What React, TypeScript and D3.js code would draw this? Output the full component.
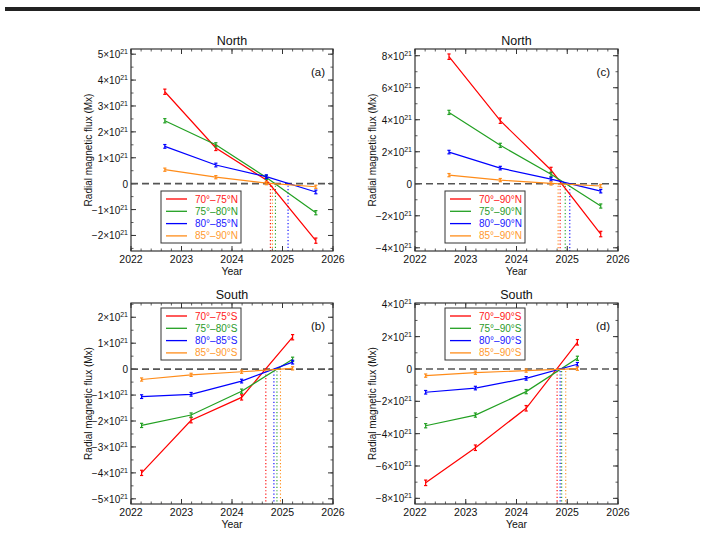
import React from 'react';
import * as d3 from 'd3';

const W = 705;
const H = 533;
const FONT = '"Liberation Sans", Arial, Helvetica, sans-serif';

const colors = ['#ff0000', '#22a022', '#0000ff', '#ff8c1a'];
const textColors = ['#ff2020', '#2a9a2a', '#2020ff', '#ff9a30'];

// observation epochs
const northYears = [2022.67, 2023.68, 2024.68, 2025.66];
const southYears = [2022.21, 2023.19, 2024.19, 2025.2];

// flux in units of 1e21 Mx, order: red, green, blue, orange
const aRed = [3.55, 1.38, 0.14, -2.2];
const aGreen = [2.43, 1.5, 0.24, -1.12];
const aBlue = [1.44, 0.72, 0.27, -0.32];
const aOrange = [0.54, 0.25, 0.02, -0.12];

const cRed = [7.94, 3.94, 0.86, -3.14];
const cGreen = [4.46, 2.4, 0.59, -1.39];
const cBlue = [1.98, 0.98, 0.29, -0.46];
const cOrange = [0.54, 0.23, 0.02, -0.14];

const bRed = [-4.0, -1.97, -1.09, 1.23];
const bGreen = [-2.17, -1.77, -0.85, 0.38];
const bBlue = [-1.06, -0.97, -0.46, 0.27];
const bOrange = [-0.4, -0.22, -0.1, 0.03];

const dRed = [-7.04, -4.87, -2.43, 1.65];
const dGreen = [-3.51, -2.85, -1.4, 0.66];
const dBlue = [-1.44, -1.18, -0.58, 0.29];
const dOrange = [-0.41, -0.23, -0.1, 0.02];

// error bar half sizes per series
const aErr = [0.07, 0.05, 0.04, 0.03];
const cErr = [0.12, 0.08, 0.06, 0.05];
const bErr = [0.07, 0.05, 0.04, 0.03];
const dErr = [0.12, 0.08, 0.06, 0.05];

// zero crossing epochs (dotted lines)
const aCross = [2024.76, 2024.86, 2025.11, 2024.8];
const cCross = [2024.86, 2024.96, 2025.05, 2024.82];
const bCross = [2024.67, 2024.89, 2024.83, 2024.96];
const dCross = [2024.8, 2024.89, 2024.86, 2024.97];

const northBand = ['70°–75°N', '75°–80°N', '80°–85°N', '85°–90°N'];
const northCap = ['70°–90°N', '75°–90°N', '80°–90°N', '85°–90°N'];
const southBand = ['70°–75°S', '75°–80°S', '80°–85°S', '85°–90°S'];
const southCap = ['70°–90°S', '75°–90°S', '80°–90°S', '85°–90°S'];

const yearTicks = [2022, 2023, 2024, 2025, 2026];
const aTicks = [-2, -1, 0, 1, 2, 3, 4, 5];
const cTicks = [-4, -2, 0, 2, 4, 6, 8];
const bTicks = [-5, -4, -3, -2, -1, 0, 1, 2];
const dTicks = [-8, -6, -4, -2, 0, 2, 4];

function TickLabel({ v }) {
  if (v === 0) return <tspan>0</tspan>;
  return (
    <>
      <tspan>{(v < 0 ? '−' : '') + Math.abs(v) + '×10'}</tspan>
      <tspan dy={-4} fontSize={7}>21</tspan>
    </>
  );
}

function Panel({ left, top, width, height, years, series, errors, crossings,
  yDomain, yTicks, yMinorStep, title, tag, labels, legendTop }) {
  const right = left + width;
  const bottom = top + height;
  const x = d3.scaleLinear().domain([2022, 2026]).range([left, right]);
  const y = d3.scaleLinear().domain(yDomain).range([bottom, top]);
  const line = d3.line<number>().x((d, i) => x(years[i])).y(d => y(d));
  const xMinor = d3.range(2022, 2026.0001, 0.2);
  const yMinor = d3.range(Math.ceil(yDomain[0] / yMinorStep) * yMinorStep, yDomain[1] + 1e-6, yMinorStep);
  const frame = '#333';
  const lx = left + 30;
  const ly = legendTop;

  return (
    <g fontFamily={FONT}>
      <text x={(left + right) / 2} y={top - 4} fontSize={12.5} textAnchor="middle" fill="#111">{title}</text>

      {/* minor ticks */}
      {xMinor.map((t, i) => (
        <g key={'xm' + i} stroke={frame} strokeWidth={0.8}>
          <line x1={x(t)} x2={x(t)} y1={bottom} y2={bottom - 2.5} />
          <line x1={x(t)} x2={x(t)} y1={top} y2={top + 2.5} />
        </g>
      ))}
      {yMinor.map((t, i) => (
        <g key={'ym' + i} stroke={frame} strokeWidth={0.8}>
          <line x1={left} x2={left + 2.5} y1={y(t)} y2={y(t)} />
          <line x1={right} x2={right - 2.5} y1={y(t)} y2={y(t)} />
        </g>
      ))}
      {/* major ticks + labels */}
      {yearTicks.map(t => (
        <g key={'x' + t}>
          <line x1={x(t)} x2={x(t)} y1={bottom} y2={bottom - 5} stroke={frame} />
          <line x1={x(t)} x2={x(t)} y1={top} y2={top + 5} stroke={frame} />
          <text x={x(t)} y={bottom + 11.5} fontSize={10.5} textAnchor="middle" fill="#111">{t}</text>
        </g>
      ))}
      {yTicks.map(t => (
        <g key={'y' + t}>
          <line x1={left} x2={left + 5} y1={y(t)} y2={y(t)} stroke={frame} />
          <line x1={right} x2={right - 5} y1={y(t)} y2={y(t)} stroke={frame} />
          <text x={left - 3} y={y(t) + 4} fontSize={10} textAnchor="end" fill="#111"><TickLabel v={t} /></text>
        </g>
      ))}
      <text x={(left + right) / 2} y={bottom + 24} fontSize={10.5} textAnchor="middle" fill="#111">Year</text>
      <text transform={`translate(${left - 39},${(top + bottom) / 2}) rotate(-90)`} fontSize={10}
        textAnchor="middle" fill="#111">Radial magnetic flux (Mx)</text>

      {/* zero line */}
      <line x1={left} x2={right} y1={y(0)} y2={y(0)} stroke="#555" strokeWidth={1.6} strokeDasharray="7,4" />

      {/* crossing markers */}
      {crossings.map((c, i) => (
        <line key={'c' + i} x1={x(c)} x2={x(c)} y1={y(0) + 2} y2={bottom} stroke={colors[i]}
          strokeWidth={1.1} strokeDasharray="1.2,2.2" />
      ))}

      {/* series */}
      {series.map((s, i) => (
        <g key={'s' + i} stroke={colors[i]}>
          <path d={line(s)} fill="none" strokeWidth={1.2} />
          {s.map((v, j) => (
            <g key={j} strokeWidth={1.2}>
              <line x1={x(years[j])} x2={x(years[j])} y1={y(v - errors[i]) + 0.8} y2={y(v + errors[i]) - 0.8} />
              <line x1={x(years[j]) - 1.6} x2={x(years[j]) + 1.6} y1={y(v - errors[i]) + 0.8} y2={y(v - errors[i]) + 0.8} />
              <line x1={x(years[j]) - 1.6} x2={x(years[j]) + 1.6} y1={y(v + errors[i]) - 0.8} y2={y(v + errors[i]) - 0.8} />
            </g>
          ))}
        </g>
      ))}

      {/* legend */}
      <rect x={lx} y={ly} width={80} height={52} fill="#fff" stroke="#333" strokeWidth={1} />
      {labels.map((lab, i) => (
        <g key={'l' + i}>
          <line x1={lx + 5} x2={lx + 26} y1={ly + 8 + i * 12.3} y2={ly + 8 + i * 12.3} stroke={colors[i]} strokeWidth={1.3} />
          <text x={lx + 34} y={ly + 11.5 + i * 12.3} fontSize={10} fill={textColors[i]}>{lab}</text>
        </g>
      ))}

      <text x={right - 8} y={top + 27} fontSize={11.5} textAnchor="end" fill="#111">{tag}</text>

      {/* frame */}
      <rect x={left} y={top} width={width} height={height} fill="none" stroke={frame} strokeWidth={1.2} />
    </g>
  );
}

export default function App() {
  return (
    <svg width={W} height={H} style={{ display: 'block', position: 'absolute', left: 0, top: 0 }}>
      <rect x={0} y={0} width={W} height={H} fill="#fff" />
      <rect x={5} y={7} width={695} height={4} fill="#222" />
      <Panel left={131} top={49} width={202} height={202} years={northYears}
        series={[aRed, aGreen, aBlue, aOrange]} errors={aErr} crossings={aCross}
        yDomain={[-2.6, 5.2]} yTicks={aTicks} yMinorStep={0.5} title="North" tag="(a)"
        labels={northBand} legendTop={191} />
      <Panel left={415} top={49} width={203} height={202} years={northYears}
        series={[cRed, cGreen, cBlue, cOrange]} errors={cErr} crossings={cCross}
        yDomain={[-4.2, 8.42]} yTicks={cTicks} yMinorStep={1} title="North" tag="(c)"
        labels={northCap} legendTop={191} />
      <Panel left={131} top={303} width={202} height={201} years={southYears}
        series={[bRed, bGreen, bBlue, bOrange]} errors={bErr} crossings={bCross}
        yDomain={[-5.2, 2.55]} yTicks={bTicks} yMinorStep={0.5} title="South" tag="(b)"
        labels={southBand} legendTop={308} />
      <Panel left={415} top={303} width={203} height={201} years={southYears}
        series={[dRed, dGreen, dBlue, dOrange]} errors={dErr} crossings={dCross}
        yDomain={[-8.35, 4.08]} yTicks={dTicks} yMinorStep={1} title="South" tag="(d)"
        labels={southCap} legendTop={308} />
    </svg>
  );
}
